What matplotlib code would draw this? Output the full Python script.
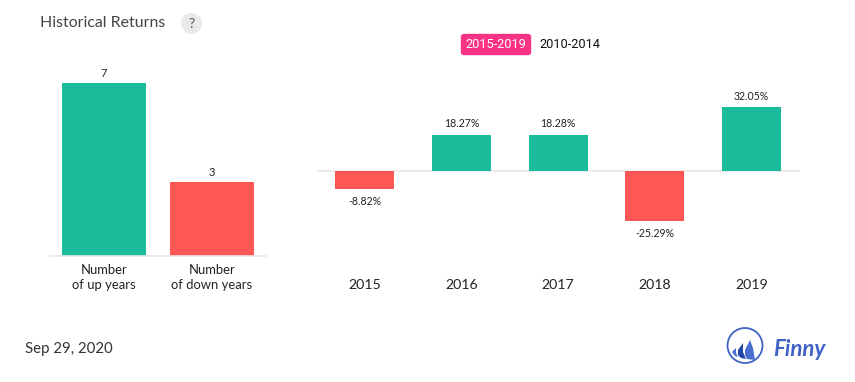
import matplotlib
matplotlib.use("Agg")
import matplotlib.pyplot as plt
from matplotlib.patches import Circle, FancyBboxPatch, Polygon

W, H = 855, 382

# data
count_labels = ["Number\nof up years", "Number\nof down years"]
count_values = [7, 3]
years = ["2015", "2016", "2017", "2018", "2019"]
returns = [-8.82, 18.27, 18.28, -25.29, 32.05]

GREEN = "#1abc9c"
RED = "#ff5656"
LINE = "#e8e8e8"

plt.rcParams["font.family"] = ["Lato", "DejaVu Sans"]


def px_axes(fig, left, top, right, bottom):
    return fig.add_axes([left / W, 1 - bottom / H, (right - left) / W, (bottom - top) / H])


def clean(ax):
    for s in ax.spines.values():
        s.set_visible(False)
    ax.tick_params(length=0)
    ax.set_yticks([])


fig = plt.figure(figsize=(W / 100, H / 100), dpi=100)

# left chart, up and down years
ax1 = px_axes(fig, 50, 58.9, 266, 255.5)
ax1.bar(range(2), count_values, width=0.778, color=[GREEN, RED])
ax1.set_xlim(-0.5, 1.5)
ax1.set_ylim(0, 8)
clean(ax1)
ax1.spines["bottom"].set_visible(True)
ax1.spines["bottom"].set_color(LINE)
ax1.spines["bottom"].set_linewidth(1.2)
ax1.set_xticks(range(2))
ax1.set_xticklabels(count_labels, fontsize=9.4, color="#222222", linespacing=1.3)
ax1.tick_params(axis="x", pad=5.8)
for i, v in enumerate(count_values):
    ax1.annotate(str(v), (i, v), xytext=(0, 3), textcoords="offset points",
                 ha="center", va="bottom", fontsize=8, color="#222222")

# right chart, yearly returns
ax2 = px_axes(fig, 316.6, 91.5, 799.6, 250.5)
colors = [GREEN if r > 0 else RED for r in returns]
ax2.bar(range(5), returns, width=0.61, color=colors)
ax2.axhline(0, color=LINE, lw=1.2, zorder=0)
ax2.set_xlim(-0.5, 4.5)
ax2.set_ylim(-40, 40)
clean(ax2)
ax2.set_xticks(range(5))
ax2.set_xticklabels(years, fontsize=10.2, color="#222222")
ax2.tick_params(axis="x", pad=20.2)
for i, r in enumerate(returns):
    off = 4 if r > 0 else -5.2
    ax2.annotate(f"{r:.2f}%", (i, r), xytext=(0, off), textcoords="offset points",
                 ha="center", va="bottom" if r > 0 else "top", fontsize=7.6, color="#222222")

# overlay in pixel coordinates for header, range switch, date and logo
ov = fig.add_axes([0, 0, 1, 1], zorder=5)
ov.set_xlim(0, W)
ov.set_ylim(H, 0)
ov.axis("off")
ov.patch.set_alpha(0)

ov.text(40, 23, "Historical Returns", fontsize=11.4, color="#444444", va="center")
ov.add_patch(Circle((191.5, 23.5), 10.5, fc="#e9e9e9", ec="none"))
ov.text(191.5, 23.5, "?", fontsize=10, color="#555555", ha="center", va="center")

ov.add_patch(FancyBboxPatch((461.5, 34.5), 69, 20, boxstyle="round,pad=0,rounding_size=2.5",
                            fc="#fc3385", ec="#fc3385", lw=1))
ov.text(496, 44.5, "2015-2019", fontsize=9.2, color="white", family="Roboto", ha="center", va="center")
ov.text(570, 44.5, "2010-2014", fontsize=9.2, color="#111111", family="Roboto", ha="center", va="center")

ov.text(25, 348.5, "Sep 29, 2020", fontsize=10.8, color="#333333", va="center")

# Finny logo
BLUE = "#3f62c4"
ov.add_patch(Circle((745, 345.5), 17.5, fc="white", ec=BLUE, lw=1.3))
ov.add_patch(Polygon([(745, 350), (750, 340), (753, 348), (755, 360), (747, 359), (745, 355)],
                     fc="#4a6fd0", ec="none"))
ov.add_patch(Polygon([(738, 350), (743, 343), (743, 352), (746, 359), (741, 358), (738, 355)],
                     fc="#2348a8", ec="none"))
ov.add_patch(Polygon([(732, 352), (736, 348), (736, 353), (738, 357), (735, 356)], fc="#4a6fd0", ec="none"))
ov.text(773, 350, "Finny", fontsize=16, color=BLUE, weight="bold", style="italic", va="center")

fig.savefig("out.png", dpi=100)
